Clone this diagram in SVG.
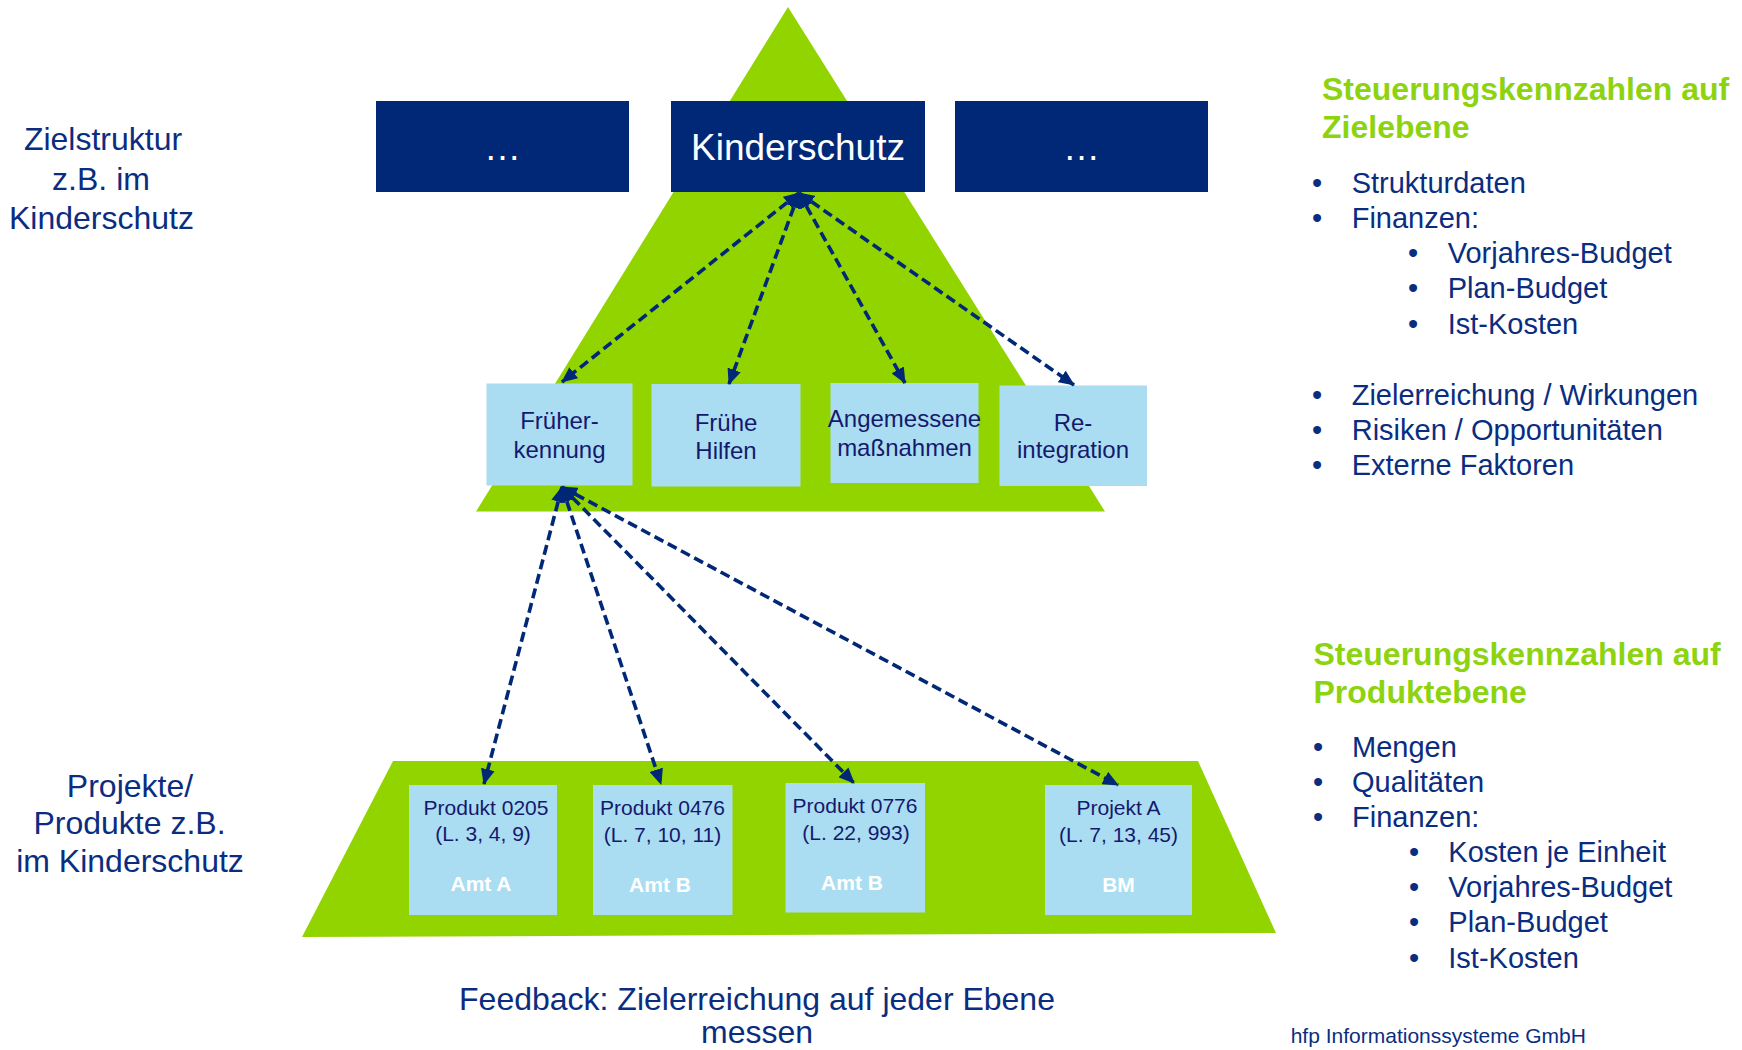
<svg xmlns="http://www.w3.org/2000/svg" width="1742" height="1050" viewBox="0 0 1742 1050">
<style>
.green{fill:#92D400}
.dark{fill:#002877}
.light{fill:#AADDF1}
.wt{font-family:"Liberation Sans",Arial,sans-serif;fill:#FFFFFF;text-anchor:middle}
.mt{font-family:"Liberation Sans",Arial,sans-serif;fill:#15196E;text-anchor:middle;font-size:24px}
.bt{font-family:"Liberation Sans",Arial,sans-serif;fill:#15196E;text-anchor:middle;font-size:21px}
.bw{font-family:"Liberation Sans",Arial,sans-serif;fill:#FFFFFF;text-anchor:middle;font-size:21px;font-weight:bold}
.lab{font-family:"Liberation Sans",Arial,sans-serif;fill:#0A2D80;text-anchor:middle;font-size:32px}
.hd{font-family:"Liberation Sans",Arial,sans-serif;fill:#8DD30F;font-size:32px;font-weight:bold}
.li{font-family:"Liberation Sans",Arial,sans-serif;fill:#0A2D80;font-size:29px}
.bu{font-family:"Liberation Sans",Arial,sans-serif;fill:#0A2D80;font-size:29px;text-anchor:middle}
.conn{fill:none;stroke:#002877;stroke-width:3.6;stroke-dasharray:10 5;marker-start:url(#ah);marker-end:url(#ah)}
</style>
<defs>
<marker id="ah" viewBox="0 0 16 14" markerWidth="16" markerHeight="14" refX="15" refY="7" orient="auto-start-reverse" markerUnits="userSpaceOnUse">
<path d="M0,0 L16,7 L0,14 z" fill="#002877"/>
</marker>
</defs>
<rect width="1742" height="1050" fill="#FFFFFF"/>

<g id="background">
<polygon class="green" points="788,7 1105,511.5 476,511.5"/>
<polygon class="green" points="393,761 1198,761 1276,933 302,937"/>
</g>

<g id="node-dots-left">
<rect class="dark" x="376" y="101" width="253" height="91"/>
<text class="wt" x="502.5" y="160" font-size="37">…</text>
</g>
<g id="node-kinderschutz">
<rect class="dark" x="671" y="101" width="254" height="91"/>
<text class="wt" x="798" y="160" font-size="37">Kinderschutz</text>
</g>
<g id="node-dots-right">
<rect class="dark" x="955" y="101" width="253" height="91"/>
<text class="wt" x="1081.5" y="160" font-size="37">…</text>
</g>

<g id="node-frueherkennung">
<rect class="light" x="486.5" y="383.5" width="146" height="102"/>
<text class="mt" x="559.5" y="429">Früher-</text>
<text class="mt" x="559.5" y="458">kennung</text>
</g>
<g id="node-fruehe-hilfen">
<rect class="light" x="651.5" y="384" width="149" height="102.5"/>
<text class="mt" x="726" y="430.5">Frühe</text>
<text class="mt" x="726" y="459">Hilfen</text>
</g>
<g id="node-angemessene">
<rect class="light" x="830.5" y="383" width="148" height="100"/>
<text class="mt" x="904.5" y="427">Angemessene</text>
<text class="mt" x="904.5" y="456">maßnahmen</text>
</g>
<g id="node-reintegration">
<rect class="light" x="999.5" y="385.5" width="147.5" height="100.5"/>
<text class="mt" x="1073" y="430.5">Re-</text>
<text class="mt" x="1073" y="458">integration</text>
</g>

<g id="node-produkt-0205">
<rect class="light" x="409" y="785" width="148" height="130"/>
<text class="bt" x="486" y="814.5">Produkt 0205</text>
<text class="bt" x="483" y="840.5">(L. 3, 4, 9)</text>
<text class="bw" x="481" y="891">Amt A</text>
</g>
<g id="node-produkt-0476">
<rect class="light" x="593" y="785" width="139.5" height="130"/>
<text class="bt" x="662.5" y="815">Produkt 0476</text>
<text class="bt" x="662.5" y="842">(L. 7, 10, 11)</text>
<text class="bw" x="660" y="891.5">Amt B</text>
</g>
<g id="node-produkt-0776">
<rect class="light" x="785.5" y="783" width="139.5" height="129.5"/>
<text class="bt" x="855" y="813">Produkt 0776</text>
<text class="bt" x="856" y="840">(L. 22, 993)</text>
<text class="bw" x="852" y="890">Amt B</text>
</g>
<g id="node-projekt-a">
<rect class="light" x="1045" y="785" width="147" height="130"/>
<text class="bt" x="1118.5" y="815">Projekt A</text>
<text class="bt" x="1118.5" y="841.5">(L. 7, 13, 45)</text>
<text class="bw" x="1118.5" y="891.5">BM</text>
</g>

<g id="connectors">
<line class="conn" x1="799" y1="193" x2="562" y2="382"/>
<line class="conn" x1="799" y1="193" x2="729" y2="384"/>
<line class="conn" x1="799" y1="193" x2="905" y2="383"/>
<line class="conn" x1="799" y1="193" x2="1074" y2="385"/>
<line class="conn" x1="562" y1="487" x2="484" y2="784"/>
<line class="conn" x1="562" y1="487" x2="661" y2="784"/>
<line class="conn" x1="562" y1="487" x2="854" y2="783"/>
<line class="conn" x1="562" y1="487" x2="1118" y2="785"/>
</g>

<g id="label-zielstruktur">
<text class="lab" x="103" y="149.5">Zielstruktur</text>
<text class="lab" x="101" y="190">z.B. im</text>
<text class="lab" x="101.5" y="228.5">Kinderschutz</text>
</g>
<g id="label-projekte">
<text class="lab" x="130" y="796.5">Projekte/</text>
<text class="lab" x="129.5" y="834">Produkte z.B.</text>
<text class="lab" x="130" y="871.5">im Kinderschutz</text>
</g>

<g id="panel-zielebene">
<text class="hd" x="1322" y="99.5">Steuerungskennzahlen auf</text>
<text class="hd" x="1322" y="137.5">Zielebene</text>
<text class="bu" x="1317" y="192.7">•</text><text class="li" x="1351.7" y="192.7">Strukturdaten</text>
<text class="bu" x="1317" y="228.3">•</text><text class="li" x="1351.7" y="228.3">Finanzen:</text>
<text class="bu" x="1413" y="263.3">•</text><text class="li" x="1447.7" y="263.3">Vorjahres-Budget</text>
<text class="bu" x="1413" y="298.3">•</text><text class="li" x="1447.7" y="298.3">Plan-Budget</text>
<text class="bu" x="1413" y="334">•</text><text class="li" x="1447.7" y="334">Ist-Kosten</text>
<text class="bu" x="1317" y="405">•</text><text class="li" x="1351.7" y="405">Zielerreichung / Wirkungen</text>
<text class="bu" x="1317" y="440">•</text><text class="li" x="1351.7" y="440">Risiken / Opportunitäten</text>
<text class="bu" x="1317" y="475">•</text><text class="li" x="1351.7" y="475">Externe Faktoren</text>
</g>

<g id="panel-produktebene">
<text class="hd" x="1313.5" y="665">Steuerungskennzahlen auf</text>
<text class="hd" x="1313.5" y="703.3">Produktebene</text>
<text class="bu" x="1318" y="756.7">•</text><text class="li" x="1352" y="756.7">Mengen</text>
<text class="bu" x="1318" y="791.7">•</text><text class="li" x="1352" y="791.7">Qualitäten</text>
<text class="bu" x="1318" y="827.3">•</text><text class="li" x="1352" y="827.3">Finanzen:</text>
<text class="bu" x="1414" y="862.3">•</text><text class="li" x="1448.3" y="862.3">Kosten je Einheit</text>
<text class="bu" x="1414" y="897.3">•</text><text class="li" x="1448.3" y="897.3">Vorjahres-Budget</text>
<text class="bu" x="1414" y="932.3">•</text><text class="li" x="1448.3" y="932.3">Plan-Budget</text>
<text class="bu" x="1414" y="968.3">•</text><text class="li" x="1448.3" y="968.3">Ist-Kosten</text>
</g>

<g id="footer">
<text class="lab" x="757" y="1010">Feedback: Zielerreichung auf jeder Ebene</text>
<text class="lab" x="757" y="1043">messen</text>
<text font-family="'Liberation Sans',Arial,sans-serif" font-size="21" fill="#0A2D80" x="1290.7" y="1042.7">hfp Informationssysteme GmbH</text>
</g>
</svg>
